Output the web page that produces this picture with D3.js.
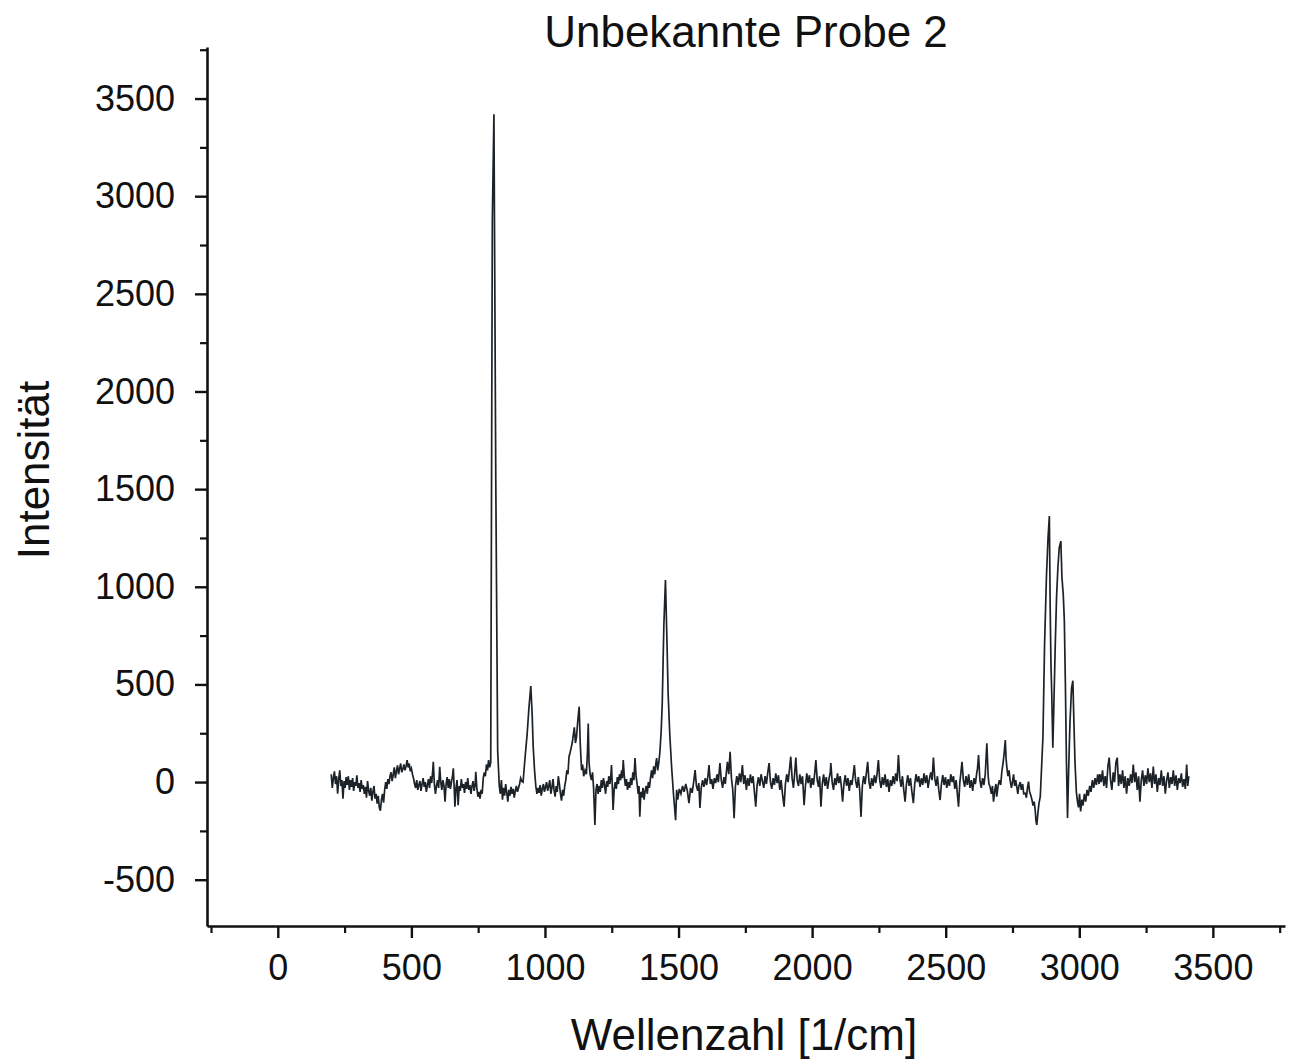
<!DOCTYPE html>
<html>
<head>
<meta charset="utf-8">
<script src="https://cdn.jsdelivr.net/npm/d3@7"></script>
<style>
  body { margin: 0; background: #fff; }
  svg text { font-family: "Liberation Sans", Arial, sans-serif; fill: #111; }
</style>
</head>
<body>
<div id="chart"></div>
<script>
// Chart texts
const title = "Unbekannte Probe 2";
const xTitle = "Wellenzahl [1/cm]";
const yTitle = "Intensität";

// Axis ticks
const xTicks = [0, 500, 1000, 1500, 2000, 2500, 3000, 3500];
const yTicks = [-500, 0, 500, 1000, 1500, 2000, 2500, 3000, 3500];

// Spectrum: [wavenumber, intensity]
const lowRange = [
  [200,40],[204,-30],[208,20],[212,55],[216,-10],[220,30],[224,-60],[228,15],[232,60],[236,-20],
  [240,10],[244,-85],[248,5],[252,-30],[256,25],[260,-15],[264,30],[268,-40],[272,10],[276,-25],
  [280,20],[284,-45],[288,0],[292,-20],[296,35],[300,-30],[304,-5],[308,-50],[312,10],[316,-35],
  [320,-15],[324,-60],[328,-25],[332,-80],[336,5],[340,-45],[344,-70],[348,-30],[352,-95],[356,-50],
  [360,-20],[364,-85],[368,-60],[372,-110],[376,-70],[380,-130],[384,-147],[388,-90],[392,-60],[396,-105],
  [400,-40],[404,0],[408,-35],[412,15],[416,-10],[420,30],[424,50],[428,5],[432,40],[436,75],
  [440,20],[444,55],[448,85],[452,40],[456,70],[460,95],[464,50],[468,65],[472,90],[476,60],
  [480,80],[484,112],[488,75],[492,95],[496,55],[500,70],[504,40],[508,20],[512,-10],[516,-30],
  [520,10],[524,-40],[528,-15],[532,5],[536,-45],[540,-10],[544,20],[548,-25],[552,0],[556,-50],
  [560,-15],[564,15],[568,-30],[572,30],[576,-5],[580,60],[582,104],[586,-10],[590,-60],[594,-20],
  [598,10],[602,-30],[606,78],[610,0],[614,-40],[618,10],[622,-20],[626,-100],[630,-10],[634,25],
  [638,-30],[642,15],[646,-35],[650,0],[654,30],[657,70],[660,-20],[663,-126],[667,-30],[671,10],
  [675,-118],[679,-20],[683,-45],[687,15],[691,-30],[695,-10],[699,-55],[703,0],[707,-35],[711,20],
  [715,-40],[719,-15],[723,-60],[727,-20],[731,5],[735,-45],[739,-10],[741,53],[745,-30],[749,-75],
  [753,-50],[757,-85],[761,-40],[765,-60],[769,20],[773,50],[777,30],[781,90],[785,60],[789,112],
  [793,75],[797,100]
];

const fingerprint = [
  [803,2880],[809,3420],[816,1530],[823,160],[829,-20],[833,-60],[837,10],[841,-90],[845,-30],[849,-70],
  [853,-10],[857,-55],[861,-100],[865,-40],[869,-70],[873,-25],[877,-60],[881,-35],[885,-80],[889,-45],
  [893,-20],[897,-50],[901,-30],[905,-10],[909,20],[913,5],[918,0],[924,100],[929,180],[933,240],
  [940,380],[947,492],[952,350],[956,180],[961,60],[966,-24],[970,-60],[974,-30],[978,-55],[982,-15],
  [986,-70],[990,-35],[994,-10],[998,-50],[1002,-25],[1006,0],[1010,-45],[1014,-20],[1018,10],[1022,-60],
  [1026,-30],[1030,15],[1034,-40],[1038,-75],[1042,-20],[1046,-50],[1050,30],[1054,-10],[1058,-60],[1062,-95],
  [1066,-40],[1070,-70],[1074,-20],[1078,10],[1082,60],[1086,40],[1090,130],[1094,150],[1098,175],[1102,200],
  [1106,240],[1110,280],[1114,200],[1118,230],[1122,300],[1128,386],[1132,200],[1137,61],[1141,90],[1145,30],
  [1150,60],[1155,40],[1159,150],[1162,300],[1165,100],[1169,40],[1174,10],[1178,50],[1182,-30],[1187,-220],
  [1191,-40],[1195,-10],[1199,-60],[1203,-20],[1207,-50],[1211,10],[1215,-30],[1219,20],[1223,-15],[1227,-60],
  [1231,5],[1235,-25],[1239,30],[1243,-10],[1247,40],[1249,87],[1252,-20],[1255,-143],[1259,-40],[1263,0],
  [1267,-35],[1271,25],[1275,-10],[1279,40],[1283,10],[1287,60],[1290,20],[1293,113],[1297,30],[1301,-20],
  [1305,15],[1309,-40],[1313,0],[1317,-30],[1321,20],[1325,-15],[1329,50],[1333,10],[1337,123],[1341,30],
  [1345,-10],[1349,-60],[1352,-20],[1355,-178],[1359,-50],[1363,-80],[1367,-30],[1371,-90],[1375,-45],[1379,-20],
  [1383,-60],[1387,0],[1391,-30],[1395,20],[1399,60],[1403,20],[1407,80],[1411,40],[1415,95],[1418,123],
  [1422,60],[1426,100],[1430,150],[1435,260],[1439,403],[1445,800],[1451,1035],[1456,760],[1461,456],[1467,250],
  [1474,78],[1481,-60],[1489,-195],[1493,-40]
];

const midRange = [
  [1497,-90],[1503,-35],[1509,-60],[1515,-20],[1521,-50],[1527,-10],[1533,-45],[1539,-108],[1545,-30],[1551,-55],
  [1557,5],[1562,61],[1567,-20],[1572,-45],[1576,-5],[1580,-133],[1585,-30],[1590,10],[1595,-25],[1600,20],
  [1605,-15],[1610,30],[1614,87],[1619,-10],[1624,15],[1629,-35],[1634,20],[1639,-5],[1644,40],[1649,0],
  [1655,97],[1660,10],[1665,-30],[1670,25],[1675,-10],[1679,50],[1683,104],[1688,40],[1693,155],[1698,20],
  [1703,-40],[1708,-185],[1713,-20],[1718,30],[1723,-15],[1728,45],[1733,0],[1739,87],[1744,-10],[1749,35],
  [1754,-40],[1759,20],[1764,-20],[1769,40],[1774,-5],[1779,30],[1784,-50],[1789,-126],[1794,-15],[1799,25],
  [1804,-20],[1809,40],[1814,5],[1819,-30],[1824,30],[1829,-10],[1834,50],[1839,97],[1844,0],[1849,-35],
  [1854,20],[1859,-15],[1864,45],[1869,-5],[1874,35],[1879,-40],[1884,10],[1889,-60],[1895,-126],[1900,-10],
  [1905,40],[1910,0],[1915,60],[1920,130],[1925,20],[1930,-30],[1935,50],[1939,125],[1944,10],[1949,-20],
  [1954,40],[1959,-10],[1964,30],[1970,-118],[1975,-20],[1980,45],[1985,-5],[1990,35],[1995,-30],[2000,20],
  [2005,-15],[2010,50],[2014,113],[2019,10],[2024,-25],[2028,30],[2033,-126],[2038,-10],[2043,40],[2048,-20],
  [2053,25],[2058,-35],[2063,15],[2068,50],[2070,97],[2075,0],[2080,-40],[2085,20],[2090,-15],[2095,45],
  [2100,-5],[2105,30],[2110,-30],[2114,-100],[2119,-10],[2124,35],[2129,-20],[2134,20],[2139,-45],[2144,10],
  [2149,-15],[2154,40],[2158,87],[2163,5],[2168,-30],[2173,25],[2178,-40],[2183,-178],[2188,-20],[2193,30],
  [2198,-10],[2203,45],[2208,104],[2213,0],[2218,-35],[2223,20],[2228,-20],[2233,35],[2238,-5],[2243,40],
  [2248,113],[2253,10],[2258,-30],[2263,25],[2268,-15],[2273,40],[2278,-25],[2283,15],[2288,-50],[2293,10],
  [2298,-20],[2303,30],[2308,-10],[2313,45],[2318,5],[2323,138],[2328,20],[2333,-25],[2338,30],[2343,-40],
  [2348,-100],[2353,-10],[2358,35],[2363,-20],[2368,20],[2373,-45],[2379,-108],[2384,-10],[2389,40],[2394,0],
  [2399,30],[2404,-25],[2409,20],[2414,-15],[2419,45],[2424,-5],[2429,35],[2434,-30],[2439,15],[2444,50],
  [2449,10],[2454,125],[2459,20],[2464,-20],[2469,30],[2474,-40],[2479,-92],[2484,-10],[2489,35],[2494,-15],
  [2499,25],[2504,-30],[2509,15],[2514,-20],[2519,40],[2524,0],[2529,30],[2534,-35],[2539,10],[2543,-50],
  [2548,-126],[2553,0],[2557,50],[2561,104],[2566,10],[2571,-25],[2576,30],[2581,-15],[2586,40],[2591,-30],
  [2596,10],[2601,-45],[2606,20],[2611,-10],[2616,45],[2619,70],[2623,138],[2628,10],[2633,-30],[2638,20],
  [2643,-15],[2648,40],[2654,198],[2659,30],[2662,-10],[2666,-24],[2671,-60],[2675,-20],[2679,-100],[2684,-40],
  [2688,-10],[2691,-75],[2696,-20],[2701,10],[2706,-15],[2710,53],[2715,100],[2719,150],[2723,215],[2726,120],
  [2729,74],[2733,30],[2737,60],[2741,10],[2746,-30],[2750,0],[2754,40],[2758,-20],[2762,10],[2766,-24],
  [2770,-60],[2774,-20],[2779,0],[2783,-40],[2788,-10],[2792,-60],[2798,-58],[2802,-80],[2806,-30],[2810,2],
  [2814,-50],[2819,-70],[2823,-92],[2827,-120],[2831,-100],[2835,-143],[2838,-200],[2841,-220],[2845,-160],[2849,-110],
  [2854,-75]
];

const chRange = [
  [2859,80],[2864,232],[2870,700],[2877,1050],[2883,1250],[2888,1362],[2891,900],[2894,600],[2897,450],[2901,176],
  [2905,400],[2910,700],[2915,950],[2920,1100],[2925,1200],[2931,1234],[2935,1050],[2940,960],[2944,830],[2948,500],
  [2952,100],[2956,-184],[2960,50],[2965,300],[2971,480],[2976,519],[2980,300],[2984,100],[2989,-50],[2993,-97],
  [2997,-130],[3001,-60],[3005,-150],[3010,-90],[3014,-120],[3019,-60],[3024,-100],[3029,-40],[3034,-70],[3039,-20],
  [3044,-50],[3049,10],[3054,-30],[3059,20],[3064,-15],[3069,40],[3074,-10],[3077,41],[3082,0],[3087,60],
  [3092,-20],[3097,30],[3102,-30],[3107,80],[3112,125],[3117,10],[3122,-40],[3127,50],[3132,0],[3137,100],
  [3142,125],[3147,-20],[3152,40],[3157,-10],[3162,60],[3167,-30],[3172,30],[3177,-60],[3182,20],[3187,-20],
  [3192,40],[3197,-5],[3202,90],[3207,0],[3212,50],[3217,-40],[3222,30],[3227,-100],[3232,10],[3237,60],
  [3242,-20],[3247,35],[3252,-10],[3257,70],[3262,0],[3267,45],[3272,-30],[3277,80],[3282,-10],[3287,40],
  [3292,-50],[3297,20],[3302,-15],[3307,60],[3312,-20],[3317,30],[3322,-60],[3327,10],[3332,50],[3337,-30],
  [3342,25],[3347,-10],[3352,60],[3357,-20],[3362,35],[3367,-40],[3372,20],[3377,-5],[3382,45],[3387,-25],
  [3392,15],[3397,-35],[3402,90],[3406,-20],[3410,30]
];

const spectrum = lowRange.concat(fingerprint, midRange, chRange);

// Layout
const width = 1290, height = 1062;
const margin = { top: 47, right: 5, bottom: 136, left: 207 };

const svg = d3.select("#chart").append("svg")
    .attr("width", width)
    .attr("height", height);

const x = d3.scaleLinear()
    .domain([-265, 3770])
    .range([margin.left, width - margin.right]);

const y = d3.scaleLinear()
    .domain([-737, 3764])
    .range([height - margin.bottom, margin.top]);

const xMinor = d3.range(-250, 3770, 250).filter(v => v % 500 !== 0);
const yMinor = d3.range(-500, 3764, 250).filter(v => v % 500 !== 0);

const plainNumber = d => String(d); // "-500" with a plain hyphen, no thousands separator

// minor ticks first, major axes on top
svg.append("g")
    .attr("transform", `translate(0,${height - margin.bottom})`)
    .call(d3.axisBottom(x).tickValues(xMinor).tickSize(7).tickFormat("").tickSizeOuter(0))
    .call(g => g.select(".domain").remove())
    .call(g => g.selectAll("line").attr("stroke", "#111").attr("stroke-width", 2.2));

svg.append("g")
    .attr("transform", `translate(${margin.left},0)`)
    .call(d3.axisLeft(y).tickValues(yMinor).tickSize(7).tickFormat("").tickSizeOuter(0))
    .call(g => g.select(".domain").remove())
    .call(g => g.selectAll("line").attr("stroke", "#111").attr("stroke-width", 2.2));

const xAxis = svg.append("g")
    .attr("transform", `translate(0,${height - margin.bottom})`)
    .call(d3.axisBottom(x).tickValues(xTicks).tickFormat(plainNumber)
        .tickSize(12).tickSizeOuter(0).tickPadding(16));

const yAxis = svg.append("g")
    .attr("transform", `translate(${margin.left},0)`)
    .call(d3.axisLeft(y).tickValues(yTicks).tickFormat(plainNumber)
        .tickSize(12).tickSizeOuter(0).tickPadding(20));

[xAxis, yAxis].forEach(g => {
    g.select(".domain").attr("stroke", "#111").attr("stroke-width", 2.6);
    g.selectAll(".tick line").attr("stroke", "#111").attr("stroke-width", 2.4);
    g.selectAll(".tick text")
        .attr("fill", "#111")
        .style("font-size", "36px")
        .style("font-family", "'Liberation Sans', Arial, sans-serif");
});
xAxis.selectAll(".tick text").attr("dy", "0.71em");

// Spectrum line
const line = d3.line()
    .x(d => x(d[0]))
    .y(d => y(d[1]));

svg.append("path")
    .datum(spectrum)
    .attr("d", line)
    .attr("fill", "none")
    .attr("stroke", "#1b2228")
    .attr("stroke-width", 1.7)
    .attr("stroke-linejoin", "miter");

// Titles
svg.append("text")
    .attr("x", (margin.left + width - margin.right) / 2)
    .attr("y", 47)
    .attr("text-anchor", "middle")
    .style("font-size", "44px")
    .text(title);

svg.append("text")
    .attr("x", 744)
    .attr("y", 1050)
    .attr("text-anchor", "middle")
    .style("font-size", "44px")
    .text(xTitle);

svg.append("text")
    .attr("transform", "translate(49,470) rotate(-90)")
    .attr("text-anchor", "middle")
    .style("font-size", "44px")
    .text(yTitle);
</script>
</body>
</html>
